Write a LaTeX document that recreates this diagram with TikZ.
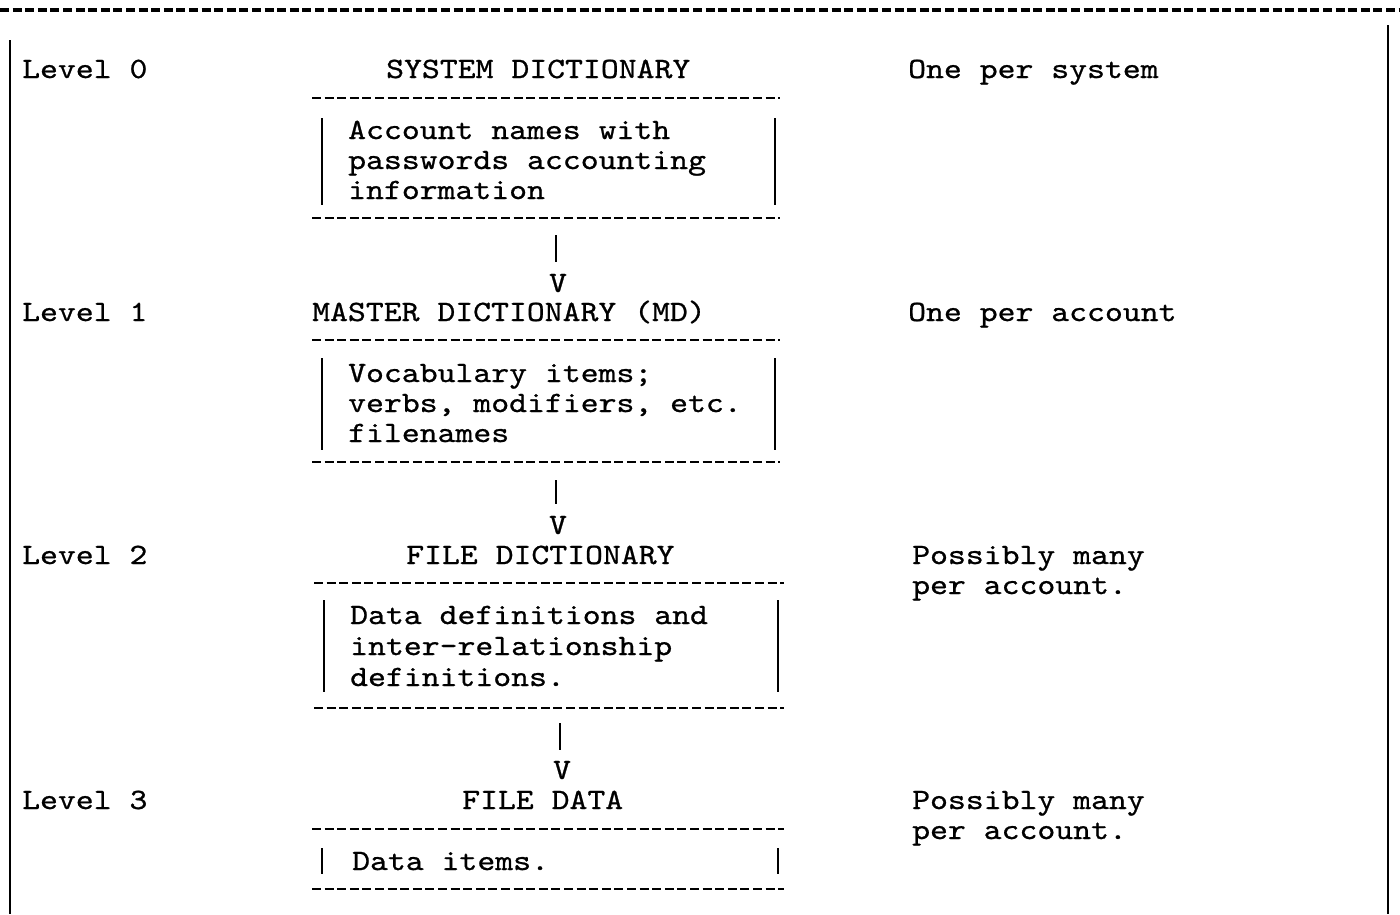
\documentclass[tikz,border=0pt]{standalone}
\usepackage{fontspec}
\setmonofont{lmmono10-regular.otf}[FakeStretch=1.155, FakeBold=0.8]
\usetikzlibrary{positioning}
\tikzset{typed/.style = {font = \ttfamily\fontsize{29.5}{30.5}\selectfont, inner sep = 0, anchor = base west}}
\tikzset{rule/.style = {line width = 2.8, dash pattern = on 9 off 3.6}}
\tikzset{side/.style = {line width = 1.4}}

\begin{document}
\begin{tikzpicture}[x = 1pt, y = -1pt]
  \useasboundingbox (0, 0) rectangle (1400, 914);
  \draw [rule, line width = 3.2] (0, 10) -- (1400, 10);
  \draw [side] (10, 40) -- (10, 914);
  \draw [side] (1388, 25) -- (1388, 914);

  \foreach \n/\y in {0/78, 1/321, 2/564, 3/809} {
    \node [typed] (level\n) at (22, \y) {Level \n};
  }

  \node [typed] (sysdict) at (386, 78) {SYSTEM DICTIONARY};
  \node [typed] (masterdict) at (312, 321) {MASTER DICTIONARY (MD)};
  \node [typed] (filedict) at (406, 564) {FILE DICTIONARY};
  \node [typed] (filedata) at (462, 809) {FILE DATA};

  \node [typed] (persystem) at (908, 78) {One per system};
  \node [typed] (peraccount) at (908, 321) {One per account};
  \foreach \y [count = \i] in {564, 809} {
    \node [typed] (many\i) at (912, \y) {Possibly many};
    \node [typed] (manyacct\i) at (912, \y + 30) {per account.};
  }

  % box rules and sides
  \foreach \ya/\yb/\l/\r in {98/218/312/780, 340/462/312/780, 583/708/314/784, 829/889/312/784} {
    \draw [rule] (\l, \ya) -- (\r, \ya);
    \draw [rule] (\l, \yb) -- (\r, \yb);
  }
  \foreach \ya/\yb/\l/\r in {118/205/322/775, 358/450/322/775, 600/692/324/778, 848/874/322/778} {
    \draw [side] (\l, \ya) -- (\l, \yb);
    \draw [side] (\r, \ya) -- (\r, \yb);
  }

  % box contents
  \foreach \t [count = \i from 0] in {Account names with, passwords accounting, information} {
    \node [typed] (sysline\i) at (348, 139 + 30*\i) {\t};
  }
  \foreach \t [count = \i from 0] in {Vocabulary items;, {verbs, modifiers, etc.}, filenames} {
    \node [typed] (mdline\i) at (348, 382 + 30*\i) {\t};
  }
  \foreach \t [count = \i from 0] in {Data definitions and, inter-relationship, definitions.} {
    \node [typed] (fdline\i) at (350, 624 + 31*\i) {\t};
  }
  \node [typed] (dataline) at (352, 870) {Data items.};

  % typed arrows
  \node [typed, anchor = base] (vone) at (558, 292) {V};
  \node [typed, anchor = base] (vtwo) at (558, 534) {V};
  \node [typed, anchor = base] (vthree) at (562, 779) {V};
  \coordinate (sysout) at (556, 235);
  \coordinate (mdout) at (556, 480);
  \coordinate (fdout) at (560, 723);
  \draw [side, shorten > = 12] (sysout) -- (sysout |- vone.north);
  \draw [side, shorten > = 12] (mdout) -- (mdout |- vtwo.north);
  \draw [side, shorten > = 11] (fdout) -- (fdout |- vthree.north);
\end{tikzpicture}
\end{document}
